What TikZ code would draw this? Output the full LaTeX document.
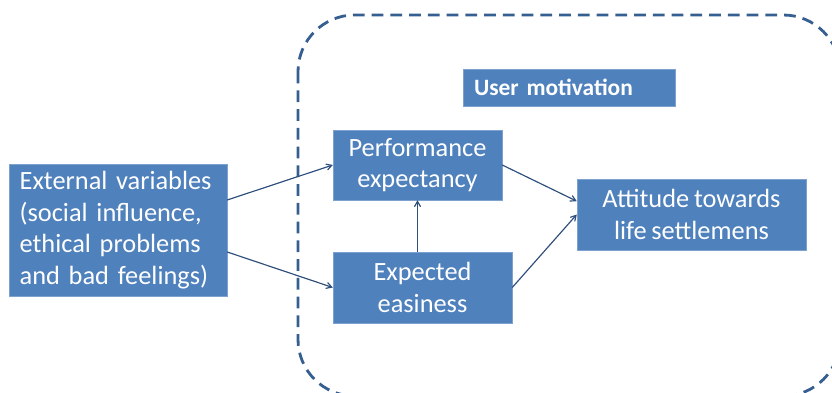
\documentclass[tikz,border=0pt]{standalone}
\usepackage{fontspec}
\setmainfont[WordSpace=0.8]{Carlito}
\usetikzlibrary{arrows}
\definecolor{boxblue}{HTML}{4F81BD}
\definecolor{boxedge}{HTML}{7EA2CF}
\definecolor{linkblue}{HTML}{2E4E7C}
\definecolor{frameblue}{HTML}{365F91}
\tikzset{
	box/.style = {draw=boxedge, fill=boxblue, text=white, inner sep=0pt, align=center,
		font=\fontsize{22.5}{27}\selectfont},
	link/.style = {draw=linkblue, line width=1pt}
}

\begin{document}
\begin{tikzpicture}[x=0.03cm, y=-0.03cm, ->, >=angle 60]
	\useasboundingbox (0,0) rectangle (832,393);
	\draw[-, frameblue, line width=2.4pt, dash pattern=on 10pt off 6pt, rounded corners=1.7cm]
		(298,15) rectangle (840,396);
	\node[box, minimum width=6.54cm, minimum height=3.96cm, align=left, text width=5.9cm] (ext) at (118,230)
		{External variables\\(social influence,\\ethical problems\\and bad feelings)};
	\node[box, minimum width=5.07cm, minimum height=2.1cm] (perf) at (417.5,165) {Performance\\expectancy};
	\node[box, minimum width=5.37cm, minimum height=2.13cm] (exp) at (422.5,287.5) {Expected\\easiness};
	\node[box, minimum width=6.87cm, minimum height=2.13cm] (att) at (691.5,214.5) {Attitude towards\\life settlemens};
	\node[box, minimum width=6.36cm, minimum height=1.11cm, align=left, text width=5.7cm,
		font=\fontsize{20}{24}\selectfont\bfseries] (mot) at (569,87.5) {User motivation};
	\draw[link] ([yshift=0.9cm]ext.east) -- (perf.west);
	\draw[link] ([yshift=-0.66cm]ext.east) -- (exp.west);
	\draw[link] (exp.north -| perf.south) -- (perf.south);
	\draw[link] (perf.east) -- ([yshift=0.4cm]att.west);
	\draw[link] (exp.east) -- (att.west);
\end{tikzpicture}
\end{document}
